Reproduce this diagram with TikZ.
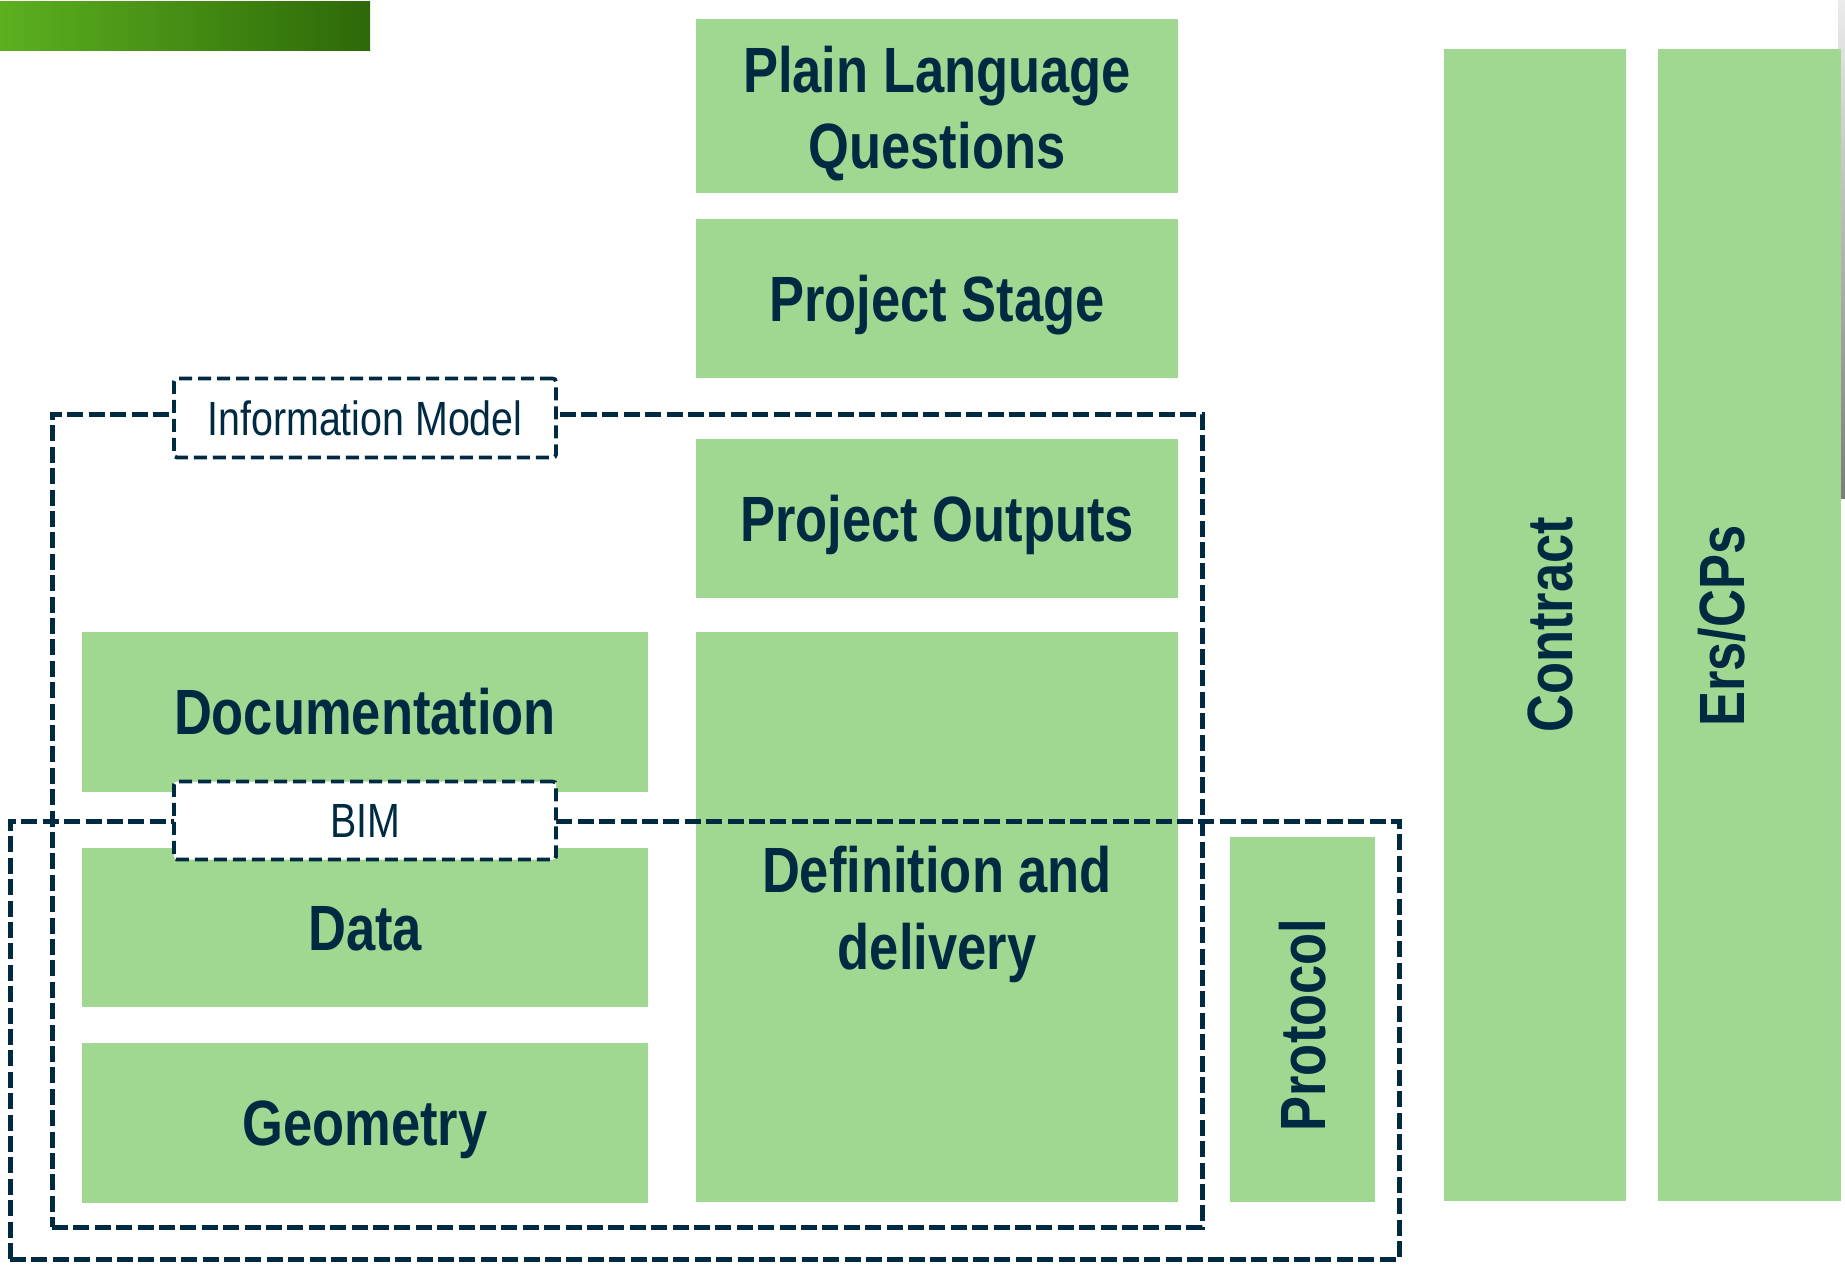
\documentclass[tikz,border=0pt]{standalone}
\usepackage{fontspec}
\newfontfamily\diagfont{Liberation Sans}[FakeStretch=0.82]

\definecolor{boxgreen}{HTML}{A1D891}
\definecolor{ink}{HTML}{002942}
\definecolor{barlight}{HTML}{5CB01F}
\definecolor{bardark}{HTML}{2D6909}
\definecolor{edgelight}{HTML}{EBEBEB}
\definecolor{edgedark}{HTML}{7C7C7C}

\tikzset{
  panel/.style={fill=boxgreen, draw=none, inner sep=0pt, outer sep=0pt},
  frame/.style={draw=ink, line width=2.5pt, dash pattern=on 8pt off 2.7pt, inner sep=0pt},
  tag/.style={draw=ink, fill=white, line width=1.9pt, dash pattern=on 6.5pt off 3pt,
    rounded corners=1.5pt, inner sep=0pt},
  heading/.style={text=ink, font=\diagfont\bfseries\fontsize{32pt}{38pt}\selectfont,
    inner sep=0pt, text height=22.9pt, text depth=0pt},
  tagtext/.style={text=ink, font=\diagfont\fontsize{24pt}{29pt}\selectfont,
    inner sep=0pt, text height=17.2pt, text depth=0pt},
  banner/.style={left color=barlight, right color=bardark, draw=none, inner sep=0pt},
}

% rectangle node given by its corners in pixel units: style, name, x1, y1, x2, y2
\newcommand{\rectnode}[6]{%
  \node[#1, minimum width={(#5-#3)*0.5pt}, minimum height={(#6-#4)*0.5pt}]
    (#2) at ({(#3+#5)/2},{(#4+#6)/2}) {};}

\begin{document}
\begin{tikzpicture}[x=0.5pt, y=-0.5pt]
\useasboundingbox (0,0) rectangle (1845,1267);

% title bar and page edge
\rectnode{banner}{titlebar}{0}{2}{370}{51}
\shade[top color=edgelight, bottom color=edgedark] (1838,0) rectangle (1845,498);

% green panels
\rectnode{panel}{plq}{696}{19}{1178}{193}
\rectnode{panel}{stage}{696}{219}{1178}{378}
\rectnode{panel}{outputs}{696}{439}{1178}{598}
\rectnode{panel}{doc}{82}{632}{648}{792}
\rectnode{panel}{defdel}{696}{632}{1178}{1202}
\rectnode{panel}{data}{82}{848}{648}{1007}
\rectnode{panel}{geom}{82}{1043}{648}{1203}
\rectnode{panel}{protocol}{1230}{837}{1375}{1202}
\rectnode{panel}{contract}{1444}{49}{1626}{1201}
\rectnode{panel}{ers}{1658}{49}{1841}{1201}

% dashed groupings
\rectnode{frame}{imframe}{52}{414}{1202}{1227}
\rectnode{frame}{bimframe}{10}{821}{1399}{1259}

% group labels
\node[tag, tagtext, minimum width=191pt, minimum height=39.5pt] (imtag) at (365,418) {Information Model};
\node[tag, tagtext, minimum width=191pt, minimum height=39pt] (bimtag) at (365,820.5) {BIM};

% panel texts
\node[heading] (plq-a) at (937,69.6) {Plain Language};
\node[heading] (plq-b) at (937,146) {Questions};
\node[heading] (stage-t) at (937,299) {Project Stage};
\node[heading] (outputs-t) at (937,519) {Project Outputs};
\node[heading] (doc-t) at (365,712) {Documentation};
\node[heading] (data-t) at (365,928) {Data};
\node[heading] (geom-t) at (365,1123) {Geometry};
\node[heading] (defdel-a) at (937,870) {Definition and};
\node[heading] (defdel-b) at (937,947) {delivery};
\node[heading, rotate=90] (protocol-t) at (1303,1025) {Protocol};
\node[heading, rotate=90] (contract-t) at (1549.5,625) {Contract};
\node[heading, rotate=90] (ers-t) at (1721.5,626) {Ers/CPs};
\end{tikzpicture}
\end{document}
